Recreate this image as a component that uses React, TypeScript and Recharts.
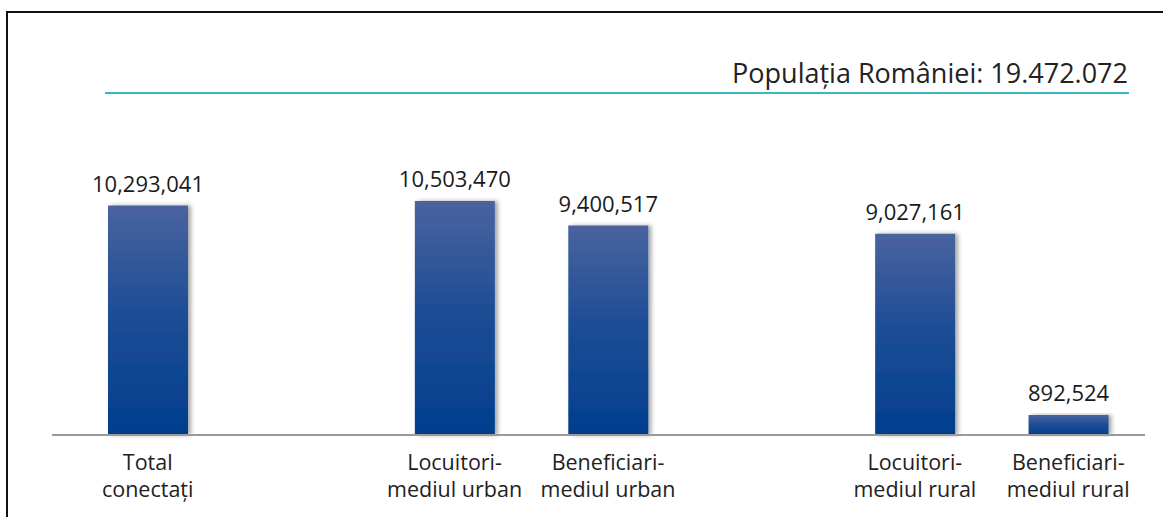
import React from 'react';
import { BarChart, Bar, XAxis, YAxis, LabelList } from 'recharts';

const categories = [
  'Total\nconectați',
  'gap1',
  'Locuitori-\nmediul urban',
  'Beneficiari-\nmediul urban',
  'gap2',
  'Locuitori-\nmediul rural',
  'Beneficiari-\nmediul rural',
];
const values: (number | null)[] = [10293041, null, 10503470, 9400517, null, 9027161, 892524];
const populationLabel = 'Populația României: 19.472.072';

const data = categories.map((name, i) => ({ name, value: values[i] }));

const FONT = '"Open Sans", sans-serif';

// two-line category label, one <text> per line
const CategoryTick: React.FC<any> = ({ x, y, payload }) => {
  const text: string = payload.value;
  if (text.startsWith('gap')) return null;
  const lines = text.split('\n');
  return (
    <g>
      {lines.map((l, i) => (
        <text key={i} x={x} y={y + 27 + i * 26.5} textAnchor="middle" fontFamily={FONT} fontSize={21.5} fill="#222">
          {l}
        </text>
      ))}
    </g>
  );
};

const fmt = (v: any) => (v == null ? '' : Number(v).toLocaleString('en-US'));

export default function App() {
  return (
    <div style={{ position: 'fixed', left: 0, top: 0, width: 1163, height: 517, background: '#fff', overflow: 'hidden' }}>
      <BarChart
        width={1163}
        height={517}
        data={data}
        margin={{ top: 123, right: 18, bottom: 0, left: 52 }}
      >
        <defs>
          <linearGradient id="barGrad" x1="0" y1="0" x2="0" y2="1">
            <stop offset="0%" stopColor="#4a639f" />
            <stop offset="45%" stopColor="#1f4e96" />
            <stop offset="100%" stopColor="#003e8e" />
          </linearGradient>
          <filter id="barShadow" x="-20%" y="-10%" width="140%" height="120%">
            <feDropShadow dx="3" dy="0" stdDeviation="2" floodColor="#000" floodOpacity="0.35" />
          </filter>
        </defs>
        <XAxis
          dataKey="name"
          axisLine={{ stroke: '#9a9a9a', strokeWidth: 2 }}
          tickLine={false}
          tick={<CategoryTick />}
          interval={0}
          height={82}
          padding={{ left: 19, right: 0 }}
        />
        <YAxis hide domain={[0, 14000000]} />
        <Bar
          dataKey="value"
          barSize={80}
          fill="url(#barGrad)"
          filter="url(#barShadow)"
          isAnimationActive={false}
        >
          <LabelList
            dataKey="value"
            position="top"
            offset={14}
            formatter={fmt}
            style={{ fontFamily: FONT, fontSize: 22, fill: '#1a1a1a' }}
          />
        </Bar>
      </BarChart>
      <div
        style={{
          position: 'absolute',
          left: 6,
          top: 11,
          width: 1200,
          height: 600,
          borderTop: '2px solid #111',
          borderLeft: '2px solid #111',
          boxSizing: 'border-box',
          pointerEvents: 'none',
          zIndex: 10,
        }}
      />
      <div
        style={{
          position: 'absolute',
          right: 1163 - 1128,
          top: 55,
          fontFamily: FONT,
          fontSize: 27,
          lineHeight: '36px',
          color: '#222',
          whiteSpace: 'nowrap',
          zIndex: 2,
        }}
      >
        {populationLabel}
      </div>
      <div style={{ position: 'absolute', left: 105, width: 1024, top: 92, height: 2, background: '#3cb6c6', zIndex: 2 }} />
    </div>
  );
}
